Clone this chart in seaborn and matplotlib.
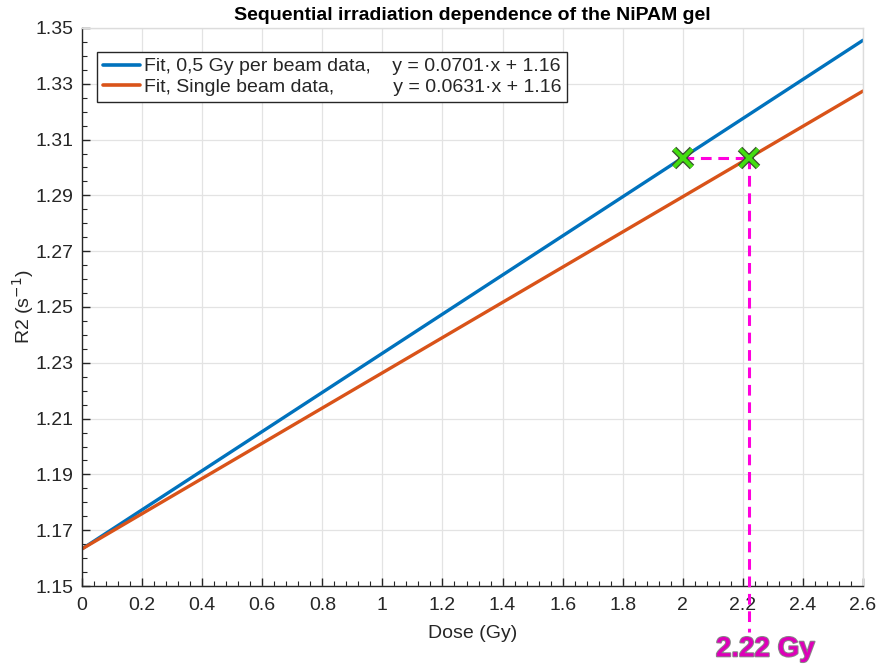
import numpy as np
import pandas as pd
import matplotlib
matplotlib.use("Agg")
import matplotlib.pyplot as plt
import matplotlib.patheffects as pe
from matplotlib.ticker import MultipleLocator, FormatStrFormatter
import seaborn as sns

# =====================================
# DATA
# =====================================

dose = [0.0, 2.6]
r2_half_gy = [1.1633, 1.3456]
r2_single = [1.1633, 1.3274]

label_half = "Fit, 0,5 Gy per beam data,    y = 0.0701\u00b7x + 1.16"
label_single = "Fit, Single beam data,           y = 0.0631\u00b7x + 1.16"

cross_x = [2.0, 2.22]
cross_y = [1.3035, 1.3035]
guide_bottom = 1.1335
dose_text = "2.22 Gy"

x_ticks = [0, 0.2, 0.4, 0.6, 0.8, 1, 1.2, 1.4, 1.6, 1.8, 2, 2.2, 2.4, 2.6]
y_ticks = [1.15, 1.17, 1.19, 1.21, 1.23, 1.25, 1.27, 1.29, 1.31, 1.33, 1.35]

# =====================================
# STYLE
# =====================================

sns.set_theme(style="whitegrid")
plt.rcParams["font.family"] = ["Liberation Sans", "DejaVu Sans"]

BLUE = "#0072BD"
ORANGE = "#D95319"
MAGENTA = "#ff00dd"
FS = 14

df = pd.DataFrame({
    "dose": dose * 2,
    "r2": r2_half_gy + r2_single,
    "fit": [label_half] * 2 + [label_single] * 2,
})

fig = plt.figure(figsize=(8.8, 6.66), dpi=100)
ax = fig.add_axes([0.0932, 0.1201, 0.8875, 0.8379])

sns.lineplot(
    data=df, x="dose", y="r2", hue="fit",
    palette=[BLUE, ORANGE], linewidth=2.4, ax=ax
)

# dashed guide
ax.plot([cross_x[0], cross_x[1]], [cross_y[0], cross_y[1]],
        color=MAGENTA, lw=2.2, ls=(0, (3.5, 2.2)), zorder=4)
ax.plot([cross_x[1], cross_x[1]], [cross_y[1], guide_bottom],
        color=MAGENTA, lw=2.2, ls=(0, (3.5, 2.2)), zorder=4, clip_on=False)

# crosses
ax.plot(cross_x, cross_y, ls="none", marker="x", ms=13, mew=2.8,
        color="#44dd11", zorder=5,
        path_effects=[pe.Stroke(linewidth=4.6, foreground="#3a5030"), pe.Normal()])

ax.text(cross_x[1] + 0.055, guide_bottom - 0.0062, dose_text,
        color="#dd00b8", fontsize=20, fontweight="bold",
        ha="center", va="center", clip_on=False,
        path_effects=[pe.Stroke(linewidth=1.4, foreground="#888888"), pe.Normal()])

# =====================================
# AXES
# =====================================

ax.set_xlim(0, 2.6)
ax.set_ylim(1.15, 1.35)
ax.set_xticks(x_ticks)
ax.set_yticks(y_ticks)
ax.xaxis.set_major_formatter(FormatStrFormatter("%g"))
ax.yaxis.set_major_formatter(FormatStrFormatter("%.2f"))
ax.xaxis.set_minor_locator(MultipleLocator(0.04))
ax.yaxis.set_minor_locator(MultipleLocator(0.005))

ax.tick_params(axis="both", which="major", direction="in", length=6, width=1,
               color="#262626", labelsize=FS, labelcolor="#262626",
               top=False, right=False, bottom=True, left=True)
ax.tick_params(axis="x", which="major", pad=8)
ax.tick_params(axis="y", which="major", pad=6)
ax.tick_params(axis="both", which="minor", direction="in", length=3.5, width=0.8,
               color="#262626", top=False, right=False, bottom=True, left=True)

ax.grid(True, which="major", color="#e3e3e3", lw=0.9)
ax.grid(False, which="minor")

for side in ["left", "bottom"]:
    ax.spines[side].set_color("#262626")
    ax.spines[side].set_linewidth(1.0)
for side in ["top", "right"]:
    ax.spines[side].set_color("#dcdcdc")
    ax.spines[side].set_linewidth(1.0)

ax.set_xlabel("Dose (Gy)", fontsize=FS, color="#262626", labelpad=8)
ax.set_ylabel("R2 (s$^{-1}$)", fontsize=FS, color="#262626", labelpad=0)
ax.set_title("Sequential irradiation dependence of the NiPAM gel",
             fontsize=FS, fontweight="bold", color="black", pad=6)

leg = ax.legend(loc="upper left", bbox_to_anchor=(0.019, 0.957), fontsize=FS,
                borderaxespad=0, frameon=True, fancybox=False, framealpha=1,
                edgecolor="#262626", handlelength=1.9, borderpad=0.3,
                labelspacing=0.15, handletextpad=0.2)
leg.get_frame().set_linewidth(1.0)
for line in leg.get_lines():
    line.set_linewidth(2.6)

fig.savefig("out.png", dpi=100)
plt.close(fig)
